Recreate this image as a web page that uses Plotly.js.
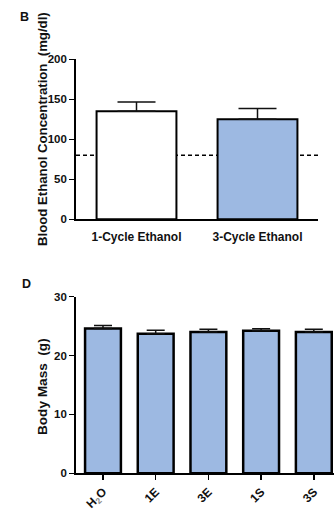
<!DOCTYPE html>
<html>
<head>
<meta charset="utf-8">
<script src="https://cdn.plot.ly/plotly-3.0.1.min.js"></script>
<style>html,body{margin:0;padding:0;background:#fff;}#chart{width:334px;height:519px;}</style>
</head>
<body>
<div id="chart"></div>
<script>
// Panel B: blood ethanol concentration
const becCategories = ["1-Cycle Ethanol", "3-Cycle Ethanol"];
const becValues = [135, 125];
const becErrors = [11.6, 13.5];
const becColors = ["#ffffff", "#9db9e2"];
const becThreshold = 80;

// Panel D: body mass
const massCategories = ["H<sub><span style='fill:#888'>2</span></sub>O", "1E", "3E", "1S", "3S"];
const massValues = [24.6, 23.7, 24.0, 24.2, 24.0];
const massErrors = [0.5, 0.6, 0.45, 0.35, 0.45];

const FONT = "Liberation Sans, Arial, Helvetica, sans-serif";
const blue = "#9db9e2";

const traces = [
  {
    type: "bar", x: becCategories, y: becValues, xaxis: "x", yaxis: "y",
    width: 0.66,
    marker: {color: becColors, line: {color: "#000", width: 2}},
    error_y: {type: "data", symmetric: false, array: becErrors, arrayminus: [0, 0],
              color: "#111", thickness: 1.5, width: 19},
    hoverinfo: "skip", showlegend: false
  },
  {
    type: "bar", x: massCategories, y: massValues, xaxis: "x2", yaxis: "y2",
    width: 0.68,
    marker: {color: blue, line: {color: "#000", width: 2.5}},
    error_y: {type: "data", symmetric: false, array: massErrors, arrayminus: massErrors.map(() => 0),
              color: "#111", thickness: 1.5, width: 9},
    hoverinfo: "skip", showlegend: false
  }
];

const tickFont = {family: FONT, size: 11.5, color: "#111", weight: 700};
const catFont = {family: FONT, size: 12, color: "#111", weight: 700};

const layout = {
  width: 334, height: 519,
  margin: {l: 0, r: 0, t: 0, b: 0},
  paper_bgcolor: "#fff", plot_bgcolor: "rgba(0,0,0,0)",
  bargap: 0.3,
  xaxis: {
    domain: [76/334, 318/334], anchor: "y", range: [-0.5, 1.5],
    showline: true, linecolor: "#000", linewidth: 1.8, showgrid: false, zeroline: false,
    ticks: "outside", ticklen: 5, tickcolor: "rgba(0,0,0,0)", tickfont: catFont, fixedrange: true
  },
  yaxis: {
    domain: [1 - 219.3/519, 1 - 59.3/519], anchor: "x", range: [0, 200], dtick: 50,
    showline: true, linecolor: "#000", linewidth: 1.8, showgrid: false, zeroline: false,
    ticks: "outside", ticklen: 5, tickwidth: 1.5, tickcolor: "#000", tickfont: tickFont, fixedrange: true
  },
  xaxis2: {
    domain: [76/334, 1], anchor: "y2", range: [-0.512, 4.383],
    showline: true, linecolor: "#000", linewidth: 1.8, showgrid: false, zeroline: false,
    ticks: "outside", ticklen: 5, tickwidth: 1.5, tickcolor: "#000", tickangle: -45,
    tickfont: {family: FONT, size: 12, color: "#111", weight: 700}, fixedrange: true
  },
  yaxis2: {
    domain: [1 - 473.3/519, 1 - 296.7/519], anchor: "x2", range: [0, 30], dtick: 10,
    showline: true, linecolor: "#000", linewidth: 1.8, showgrid: false, zeroline: false,
    ticks: "outside", ticklen: 5, tickwidth: 1.5, tickcolor: "#000", tickfont: tickFont, fixedrange: true
  },
  shapes: [
    {type: "line", xref: "x domain", yref: "y", x0: 0, x1: 1, y0: becThreshold, y1: becThreshold,
     line: {color: "#000", width: 1.5, dash: "4px,3px"}, layer: "below"}
  ],
  annotations: [
    {text: "Blood Ethanol Concentration  (mg/dl)", xref: "paper", yref: "paper",
     x: 42/334, y: 1 - 129/519, xanchor: "center", yanchor: "middle", textangle: -90,
     showarrow: false, font: {family: FONT, size: 13.2, color: "#111", weight: 700}},
    {text: "Body Mass  (g)", xref: "paper", yref: "paper",
     x: 42/334, y: 1 - 387/519, xanchor: "center", yanchor: "middle", textangle: -90,
     showarrow: false, font: {family: FONT, size: 13.6, color: "#111", weight: 700}},
    {text: "B", xref: "paper", yref: "paper", x: 24.5/334, y: 1 - 17.3/519,
     xanchor: "center", yanchor: "middle", showarrow: false,
     font: {family: FONT, size: 12.5, color: "#111", weight: 700}},
    {text: "D", xref: "paper", yref: "paper", x: 26/334, y: 1 - 283.5/519,
     xanchor: "center", yanchor: "middle", showarrow: false,
     font: {family: FONT, size: 12.5, color: "#111", weight: 700}}
  ]
};

Plotly.newPlot("chart", traces, layout, {staticPlot: true, displayModeBar: false});
</script>
</body>
</html>
